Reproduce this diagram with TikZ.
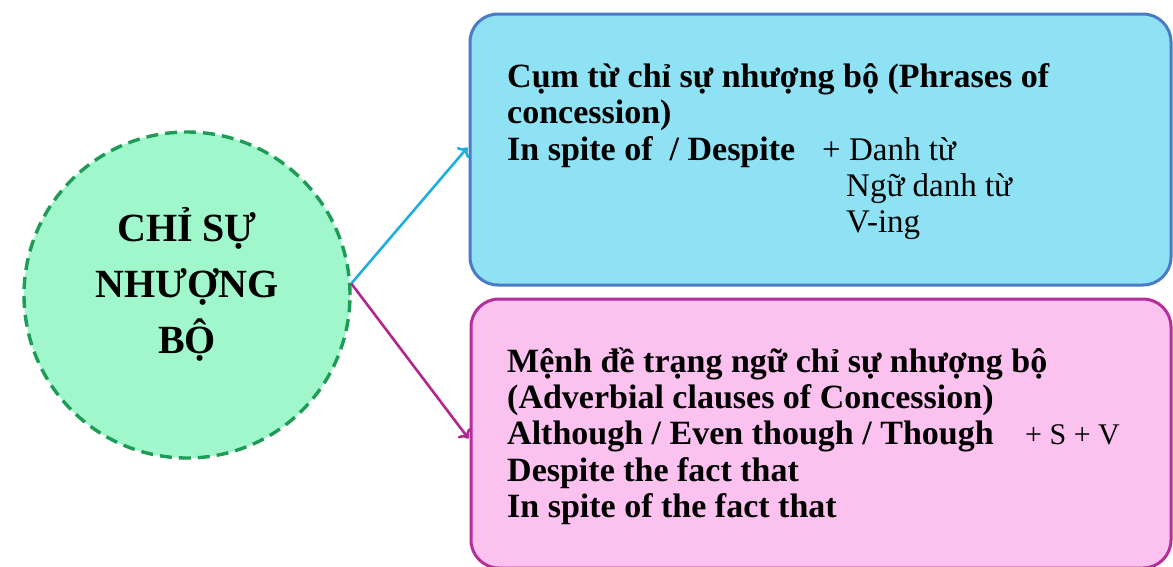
\documentclass[tikz,border=0pt]{standalone}
\usepackage{fontspec}
\setmainfont{Liberation Serif}
\usetikzlibrary{arrows.meta,calc}
\definecolor{mintfill}{HTML}{9FF7CB}
\definecolor{mintline}{HTML}{1E9C55}
\definecolor{skyfill}{HTML}{8FE2F4}
\definecolor{skyline}{HTML}{4A7BC6}
\definecolor{skyarrow}{HTML}{1FAEE0}
\definecolor{rosefill}{HTML}{FBC1EF}
\definecolor{roseline}{HTML}{B52F9C}
\definecolor{rosearrow}{HTML}{B0288F}
\tikzset{
  hub/.style={circle, draw=mintline, fill=mintfill, line width=3.4pt,
    dash pattern=on 12pt off 7pt, minimum size=326pt, inner sep=0pt},
  hubtext/.style={font=\bfseries\fontsize{40}{56}\selectfont, align=center},
  panel/.style={rectangle, rounded corners=28pt, line width=3pt, inner sep=0pt},
  line/.style={anchor=base west, inner sep=0pt, font=\fontsize{33}{37}\selectfont},
  bline/.style={line, font=\bfseries\fontsize{34}{37}\selectfont},
  link/.style={line width=2.6pt, -{To[length=8pt,width=16pt]}}
}
\begin{document}
\begin{tikzpicture}[x=1pt,y=-1pt]
\useasboundingbox (0,0) rectangle (1173,566);
\fill[white] (0,0) rectangle (1173,566);

% central circle
\node[hub] (hub) at (187,295) {};
\node[hubtext] (hublabel) at (187,284) {CHỈ SỰ\\NHƯỢNG\\BỘ};

% the two panels
\node[panel, draw=skyline, fill=skyfill, minimum width=701pt, minimum height=271pt]
  (phrase) at (820.5,149.5) {};
\node[panel, draw=roseline, fill=rosefill, minimum width=700pt, minimum height=269pt]
  (clause) at (821,433.5) {};

% connectors
\coordinate (start) at (hub.4);
\draw[link, skyarrow] (start) -- ($(phrase.west)+(-1,-2)$);
\draw[link, rosearrow] (start) -- ($(clause.west)+(-1,5)$);

% phrase panel text
\node[bline] (p1) at (507,87) {Cụm từ chỉ sự nhượng bộ (Phrases of};
\node[bline] (p2) at (507,123) {concession)};
\node[bline] (p3) at (507,160) {In spite of \ / Despite};
\node[line] (p4) at (822,160) {+ Danh từ};
\node[line] (p5) at (846,196) {Ngữ danh từ};
\node[line] (p6) at (846,232) {V-ing};

% clause panel text
\node[bline] (c1) at (507,372) {Mệnh đề trạng ngữ chỉ sự nhượng bộ};
\node[bline] (c2) at (507,408) {(Adverbial clauses of Concession)};
\node[bline] (c3) at (507,444) {Although / Even though / Though};
\node[line, font=\fontsize{30}{37}\selectfont] (c4) at (1025,444) {+ S + V};
\node[bline] (c5) at (507,481) {Despite the fact that};
\node[bline] (c6) at (507,517) {In spite of the fact that};
\end{tikzpicture}
\end{document}
